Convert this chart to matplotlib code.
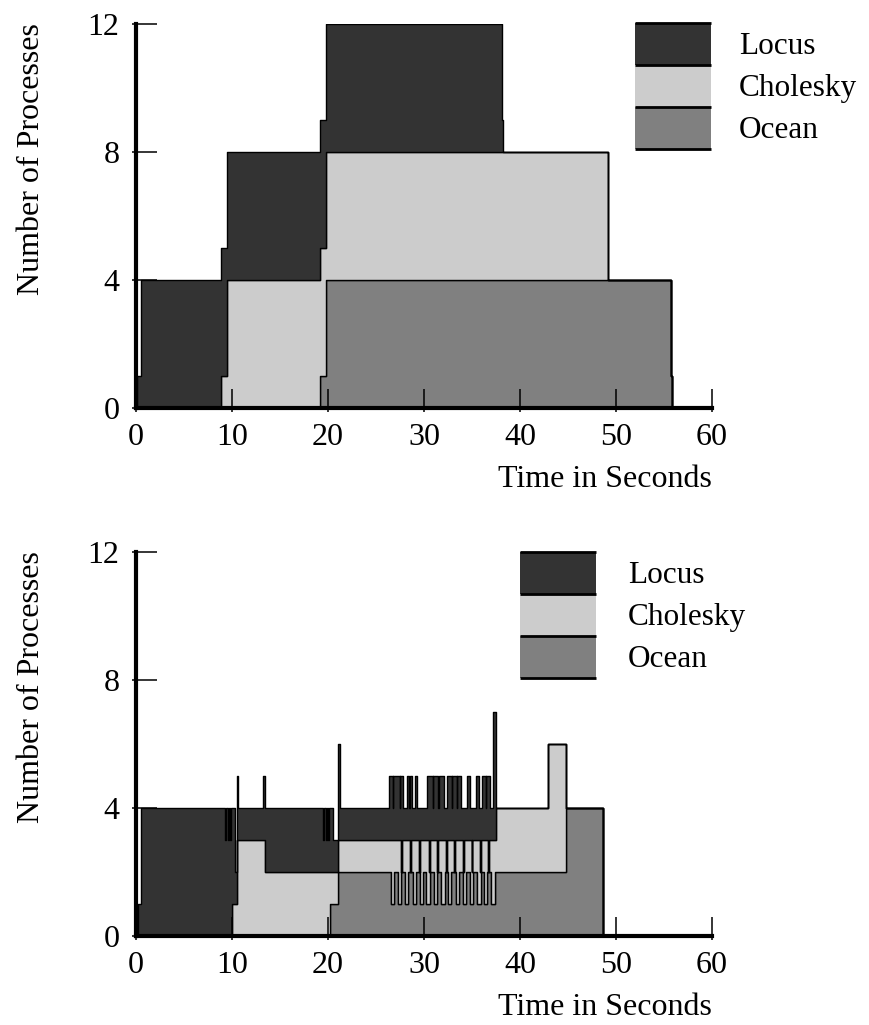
import numpy as np
import matplotlib
matplotlib.use("Agg")
import matplotlib.pyplot as plt
from matplotlib.patches import Rectangle

plt.rcParams['font.family'] = ['Liberation Serif', 'DejaVu Serif']

names = ['Locus', 'Cholesky', 'Ocean']
colors = {'Locus': '#333333', 'Cholesky': '#cccccc', 'Ocean': '#808080'}
x_ticks = [0, 10, 20, 30, 40, 50, 60]
y_ticks = [0, 4, 8, 12]

# top chart - step changes (time in s, number of processes)
top_ocean_t = [0, 19.2, 19.8, 55.7, 55.8]
top_ocean_v = [0, 1, 4, 1, 0]
top_chol_t = [0, 8.9, 9.5, 49.2]
top_chol_v = [0, 1, 4, 0]
top_locus_t = [0, 0.1, 0.5, 38.15, 38.25]
top_locus_v = [0, 1, 4, 1, 0]

# bottom chart - step changes
bot_ocean_t = [0, 20.2, 21.0, 44.8, 48.6]
bot_ocean_v = [0, 1, 2, 4, 0]
bot_chol_t = [0, 10.0, 10.5, 13.4, 20.2, 37.5, 42.9, 44.8]
bot_chol_v = [0, 1, 3, 2, 1, 2, 4, 0]
bot_locus_t = [0, 0.2, 0.5, 9.3, 9.4, 9.55, 9.65, 9.8, 9.9, 10.0, 10.3, 10.5, 10.65,
               13.2, 19.5, 19.6, 19.75, 19.85, 20.0, 20.1, 20.5, 21.05, 21.25, 37.2, 37.5]
bot_locus_v = [0, 1, 4, 3, 4, 3, 4, 3, 4, 3, 1, 2, 1,
               2, 1, 2, 1, 2, 1, 2, 1, 3, 1, 4, 0]
# short bursts in the busy stretch (start, end)
bot_ocean_dips = [(26.55, 26.9), (27.3, 27.65), (28.0, 28.35), (28.85, 29.2), (29.55, 29.9),
                  (30.25, 30.6), (31.05, 31.4), (31.8, 32.15), (32.5, 32.85), (33.3, 33.65),
                  (34.05, 34.4), (34.75, 35.1), (35.55, 35.9), (36.25, 36.6), (37.0, 37.35)]
bot_chol_gaps = [(27.6, 27.7), (28.5, 28.6), (29.5, 29.6), (30.5, 30.6), (31.4, 31.5),
                 (32.3, 32.4), (33.15, 33.25), (34.05, 34.15), (34.95, 35.05), (35.8, 35.9),
                 (36.65, 36.75)]
bot_locus_spikes = [(26.35, 26.75), (26.8, 27.45), (27.55, 27.85), (28.2, 28.45), (28.5, 28.8),
                    (29.06, 29.3), (30.28, 30.9), (30.95, 31.5), (31.55, 32.1), (32.4, 32.9),
                    (32.95, 33.4), (33.45, 33.85), (34.45, 34.8), (35.38, 35.73), (36.0, 36.45),
                    (36.5, 36.9)]


def steps(t, v, grid):
    idx = np.searchsorted(t, grid, side='right') - 1
    return np.asarray(v, float)[idx]


def pulses(intervals, grid):
    out = np.zeros(len(grid))
    for a, b in intervals:
        out[(grid >= a) & (grid < b)] += 1
    return out


def draw_layers(ax, grid, ocean, chol, locus):
    base = np.zeros(len(grid))
    for vals, name in [(ocean, 'Ocean'), (chol, 'Cholesky'), (locus, 'Locus')]:
        ax.fill_between(grid, base, base + vals, step='post', facecolor=colors[name],
                        edgecolor='black', linewidth=1.0)
        base = base + vals


def draw_legend(ax, x0, x1, y_top, row_h, text_x):
    for i, name in enumerate(names):
        y = y_top - (i + 1) * row_h
        ax.add_patch(Rectangle((x0, y), x1 - x0, row_h, facecolor=colors[name],
                               edgecolor='none', clip_on=False))
        ax.text(text_x, y + row_h / 2 - 0.31, name, fontsize=22.5, va='baseline', clip_on=False)
    for i in range(4):
        ax.plot([x0, x1], [y_top - i * row_h] * 2, color='black', lw=2,
                solid_capstyle='butt', clip_on=False)


fig = plt.figure(figsize=(8.69, 10.25), dpi=100)
ax1 = fig.add_axes([136 / 869, 1 - 408 / 1025, 576 / 869, 384 / 1025])
ax2 = fig.add_axes([136 / 869, 1 - 936 / 1025, 576 / 869, 384 / 1025])

# top
grid = np.unique(np.concatenate([top_ocean_t, top_chol_t, top_locus_t]))
draw_layers(ax1, grid,
            steps(top_ocean_t, top_ocean_v, grid),
            steps(top_chol_t, top_chol_v, grid),
            steps(top_locus_t, top_locus_v, grid))

# bottom
pts = [bot_ocean_t, bot_chol_t, bot_locus_t]
for iv in [bot_ocean_dips, bot_chol_gaps, bot_locus_spikes]:
    pts.append(np.array(iv).ravel())
grid = np.unique(np.concatenate(pts))
dips = pulses(bot_ocean_dips, grid)
gaps = pulses(bot_chol_gaps, grid)
ocean = steps(bot_ocean_t, bot_ocean_v, grid) - dips
chol = steps(bot_chol_t, bot_chol_v, grid) + dips - gaps
locus = steps(bot_locus_t, bot_locus_v, grid) + gaps + pulses(bot_locus_spikes, grid)
draw_layers(ax2, grid, ocean, chol, locus)

draw_legend(ax1, 52.0, 59.9, 12.03, 1.31, 62.8)
draw_legend(ax2, 40.0, 47.9, 12.0, 1.31, 51.25)

for ax in [ax1, ax2]:
    ax.set_xlim(0, 60)
    ax.set_ylim(0, 12)
    ax.set_axisbelow(False)
    ax.spines[['top', 'right']].set_visible(False)
    ax.spines['left'].set_linewidth(3)
    ax.spines['bottom'].set_linewidth(3)
    ax.set_xticks(x_ticks)
    ax.set_yticks(y_ticks)
    ax.xaxis.remove_overlapping_locs = False
    ax.yaxis.remove_overlapping_locs = False
    ax.set_xticks(x_ticks, minor=True)
    ax.set_yticks(y_ticks, minor=True)
    ax.tick_params(which='major', direction='in', width=1.1, labelsize=23)
    ax.tick_params(axis='y', which='major', length=15, pad=12)
    ax.tick_params(axis='x', which='major', length=14, pad=11)
    ax.tick_params(which='minor', direction='out', length=3, width=1.1)

for yb, yc in [(487, 159), (1015, 687)]:
    fig.text(712 / 869, 1 - yb / 1025, 'Time in Seconds', ha='right', va='baseline', fontsize=23)
    fig.text(39 / 869, 1 - yc / 1025, 'Number of Processes', rotation=90, rotation_mode='anchor',
             ha='center', va='baseline', fontsize=23)

fig.savefig('out.png', dpi=100)
